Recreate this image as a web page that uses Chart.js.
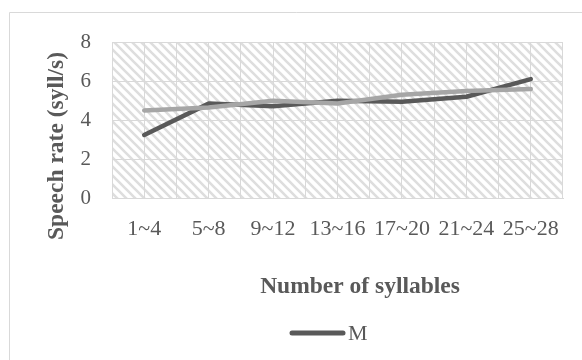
<!DOCTYPE html>
<html>
<head>
<meta charset="utf-8">
<script src="https://cdn.jsdelivr.net/npm/chart.js@4/dist/chart.umd.min.js"></script>
<style>
  html, body { margin: 0; padding: 0; background: #fff; }
  canvas { display: block; }
</style>
</head>
<body>
<canvas id="chart" width="582" height="360"></canvas>
<script>
// Syllable-count groups and mean speech rate (syll/s) per group
const categories = ['1~4', '5~8', '9~12', '13~16', '17~20', '21~24', '25~28'];
const seriesM = [3.25, 4.85, 4.72, 5.0, 4.94, 5.2, 6.1];
const seriesF = [4.5, 4.65, 5.0, 4.86, 5.3, 5.5, 5.6];
const yTicks = { min: 0, max: 8, step: 2 };
const yTitle = 'Speech rate (syll/s)';
const xTitle = 'Number of syllables';

const SERIF = "'Liberation Serif', 'Times New Roman', serif";
const TEXT = '#595959';
const GRID = '#d9d9d9';

Chart.defaults.font.family = SERIF;
Chart.defaults.color = TEXT;

// Light diagonal hatch used as the plot-area fill
function makeHatch(ctx) {
  const n = 9;
  const t = document.createElement('canvas');
  t.width = n; t.height = n;
  const g = t.getContext('2d');
  g.fillStyle = '#ffffff';
  g.fillRect(0, 0, n, n);
  g.strokeStyle = '#dedede';
  g.lineWidth = 2.6;
  g.beginPath();
  g.moveTo(-3, -3); g.lineTo(n + 3, n + 3);
  g.moveTo(-3, n - 3); g.lineTo(3, n + 3);
  g.moveTo(n - 3, -3); g.lineTo(n + 3, 3);
  g.stroke();
  return ctx.createPattern(t, 'repeat');
}

const frame = {
  id: 'frame',
  beforeDraw(chart) {
    const { ctx, chartArea: a, width, height } = chart;
    ctx.save();
    ctx.fillStyle = '#ffffff';
    ctx.fillRect(0, 0, width, height);
    // outer chart border
    ctx.strokeStyle = GRID;
    ctx.lineWidth = 1;
    ctx.beginPath();
    ctx.moveTo(9.5, height + 2);
    ctx.lineTo(9.5, 12.5);
    ctx.lineTo(width + 2, 12.5);
    ctx.stroke();
    // hatched plot area
    ctx.fillStyle = makeHatch(ctx);
    ctx.fillRect(a.left, a.top, a.right - a.left, a.bottom - a.top);
    ctx.restore();
  },
  afterDraw(chart) {
    const { ctx } = chart;
    ctx.save();
    ctx.fillStyle = TEXT;
    ctx.font = 'bold 23.5px ' + SERIF;
    ctx.textAlign = 'center';
    ctx.textBaseline = 'middle';
    // x-axis title
    ctx.fillText(xTitle, 360, 287);
    // y-axis title
    ctx.save();
    ctx.translate(57, 146);
    ctx.rotate(-Math.PI / 2);
    ctx.fillText(yTitle, 0, 0);
    ctx.restore();
    // legend (first series only)
    const ds = chart.data.datasets[0];
    ctx.strokeStyle = ds.borderColor;
    ctx.lineWidth = 5;
    ctx.lineCap = 'round';
    ctx.beginPath();
    ctx.moveTo(292, 333);
    ctx.lineTo(343, 333);
    ctx.stroke();
    ctx.font = '22px ' + SERIF;
    ctx.textAlign = 'left';
    ctx.fillText(ds.label, 348, 334);
    ctx.restore();
  }
};

new Chart(document.getElementById('chart'), {
  type: 'line',
  data: {
    labels: categories,
    datasets: [
      {
        label: 'M',
        data: seriesM,
        borderColor: '#595959',
        backgroundColor: '#595959',
        borderWidth: 4.5,
        borderCapStyle: 'round',
        borderJoinStyle: 'round',
        pointRadius: 0,
        tension: 0,
        order: 1
      },
      {
        label: 'F',
        data: seriesF,
        borderColor: '#a6a6a6',
        backgroundColor: '#a6a6a6',
        borderWidth: 4.5,
        borderCapStyle: 'round',
        borderJoinStyle: 'round',
        pointRadius: 0,
        tension: 0,
        order: 0
      }
    ]
  },
  options: {
    responsive: false,
    animation: false,
    events: [],
    layout: { padding: { top: 42, right: 19, bottom: 0, left: 0 } },
    plugins: { legend: { display: false }, tooltip: { enabled: false } },
    scales: {
      x: {
        type: 'category',
        offset: true,
        grid: { offset: true, color: GRID, drawTicks: false, lineWidth: 1 },
        border: { color: GRID },
        ticks: { font: { size: 22 }, color: TEXT, padding: 18, maxRotation: 0, autoSkip: false },
        afterFit(s) { s.height = 161.5; }
      },
      x2: {
        type: 'category',
        position: 'bottom',
        offset: true,
        grid: { offset: false, color: GRID, drawTicks: false, lineWidth: 1 },
        border: { display: false },
        ticks: { display: false },
        afterFit(s) { s.height = 0; }
      },
      y: {
        min: yTicks.min,
        max: yTicks.max,
        ticks: { stepSize: yTicks.step, font: { size: 21 }, color: TEXT, padding: 21 },
        grid: { color: GRID, drawTicks: false, lineWidth: 1 },
        border: { color: GRID },
        afterFit(s) { s.width = 112; }
      }
    }
  },
  plugins: [frame]
});
</script>
</body>
</html>
